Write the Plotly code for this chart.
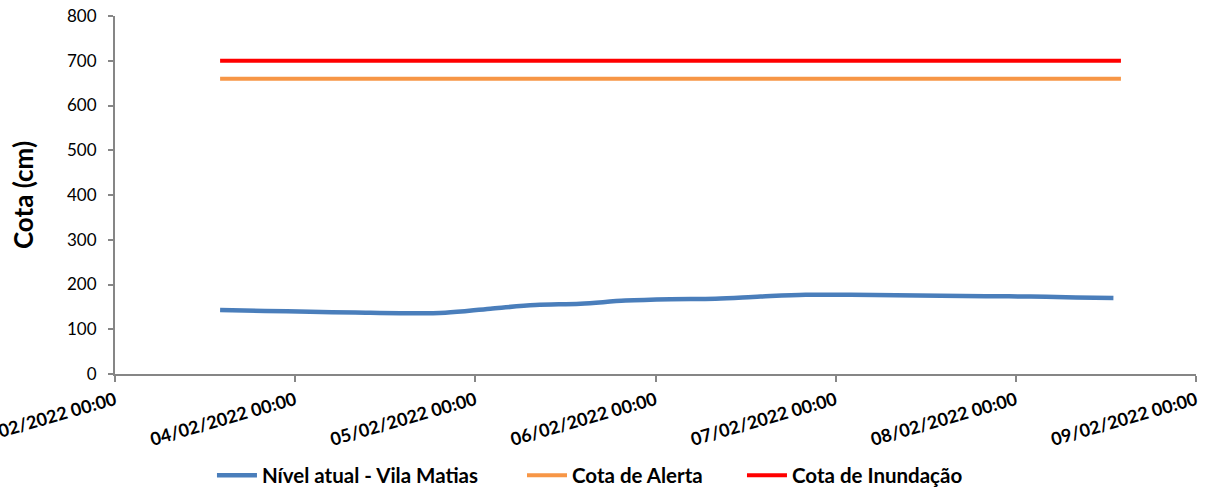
import plotly.graph_objects as go

# Data
times_blue = [
    "2022-02-03 14:00", "2022-02-03 20:00", "2022-02-04 02:00", "2022-02-04 08:00",
    "2022-02-04 14:00", "2022-02-04 20:00", "2022-02-05 02:00", "2022-02-05 08:00",
    "2022-02-05 14:00", "2022-02-05 20:00", "2022-02-06 02:00", "2022-02-06 08:00",
    "2022-02-06 14:00", "2022-02-06 20:00", "2022-02-07 02:00", "2022-02-07 08:00",
    "2022-02-07 14:00", "2022-02-07 20:00", "2022-02-08 02:00", "2022-02-08 08:00",
    "2022-02-08 13:00",
]
nivel = [143, 141, 139, 137.5, 136, 137, 146, 154, 157, 164, 167, 168,
         173, 177, 177, 176, 175, 174, 173, 171, 170]

times_ref = ["2022-02-03 14:00", "2022-02-08 14:00"]
cota_alerta = [660, 660]
cota_inundacao = [700, 700]

x_range = ["2022-02-03 00:00", "2022-02-09 00:00"]
y_ticks = [0, 100, 200, 300, 400, 500, 600, 700, 800]

FONT = "Lato, Liberation Sans, sans-serif"
AXIS_COLOR = "#868686"

fig = go.Figure()
fig.add_trace(go.Scatter(x=times_blue, y=nivel, mode="lines", name="Nível atual - Vila Matias",
                         line=dict(color="#4A7EBB", width=4.5, shape="spline"), legend="legend"))
fig.add_trace(go.Scatter(x=times_ref, y=cota_alerta, mode="lines", name="Cota de Alerta",
                         line=dict(color="#F79646", width=4), legend="legend2"))
fig.add_trace(go.Scatter(x=times_ref, y=cota_inundacao, mode="lines", name="Cota de Inundação",
                         line=dict(color="#FF0000", width=4), legend="legend3"))

legend_common = dict(orientation="h", xanchor="left", y=-0.283, yanchor="middle",
                     font=dict(size=20.5, family=FONT, weight="bold"), itemwidth=40,
                     bgcolor="rgba(0,0,0,0)")

fig.update_layout(
    width=1208, height=495,
    margin=dict(l=115, r=12, t=16, b=121, autoexpand=False),
    paper_bgcolor="white", plot_bgcolor="white",
    font=dict(family=FONT, color="#000000"),
    showlegend=True,
    legend=dict(x=0.0897, **legend_common),
    legend2=dict(x=0.3765, **legend_common),
    legend3=dict(x=0.580, **legend_common),
    xaxis=dict(
        type="date", range=x_range, dtick=86400000, tick0=x_range[0],
        tickformat="%d/%m/%Y %H:%M", tickangle=-16,
        tickfont=dict(size=18, family=FONT, weight="bold"),
        ticklabeloverflow="allow", ticklabelstandoff=1,
        showgrid=False, zeroline=False,
        showline=True, linecolor=AXIS_COLOR, linewidth=2,
        ticks="outside", tickcolor=AXIS_COLOR, ticklen=6, tickwidth=2,
        automargin=False,
    ),
    yaxis=dict(
        range=[0, 800], tickvals=y_ticks,
        tickfont=dict(size=17, family=FONT),
        ticklabelstandoff=8,
        title=dict(text="Cota (cm)", font=dict(size=26, family=FONT, weight="bold"), standoff=26),
        showgrid=False, zeroline=False,
        showline=True, linecolor=AXIS_COLOR, linewidth=2,
        ticks="outside", tickcolor=AXIS_COLOR, ticklen=5, tickwidth=2,
        automargin=False,
    ),
)

fig.write_html("out.html", config={"displayModeBar": False},
               post_script="document.body.style.margin='0';")
